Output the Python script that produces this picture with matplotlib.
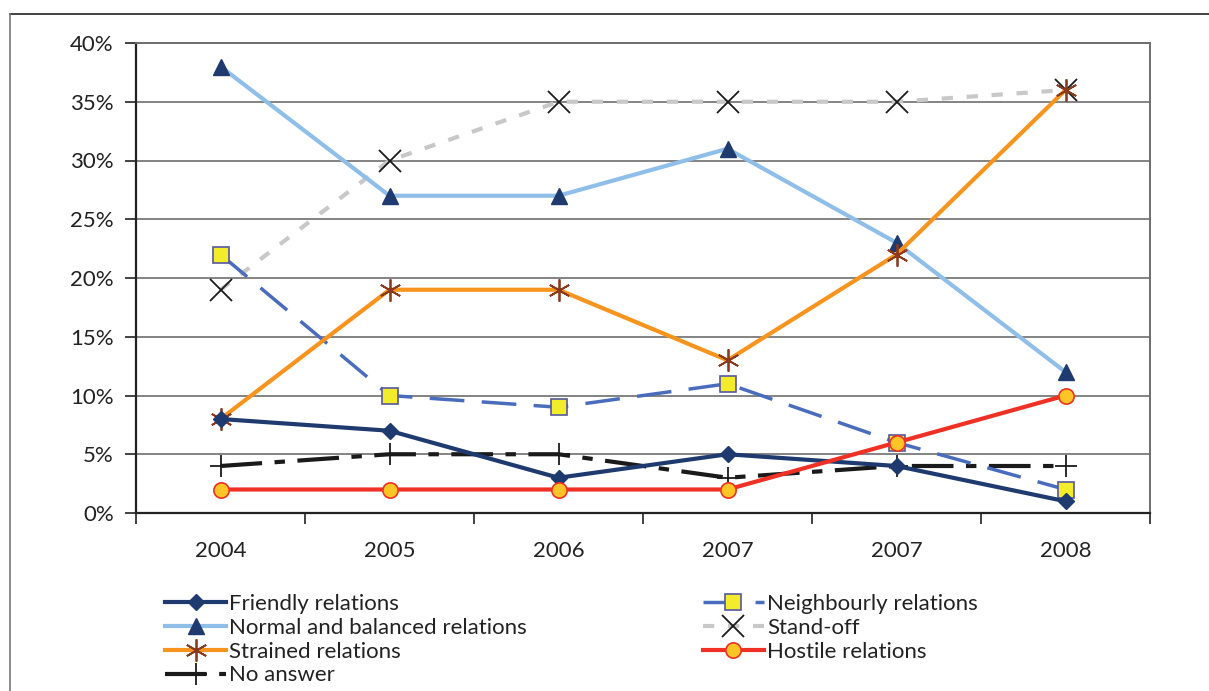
import matplotlib
matplotlib.use("Agg")
import matplotlib.pyplot as plt
from matplotlib.lines import Line2D
from matplotlib.ticker import FuncFormatter

plt.rcParams['font.family'] = ['Lato', 'DejaVu Sans']

years = ['2004', '2005', '2006', '2007', '2007', '2008']
friendly = [8, 7, 3, 5, 4, 1]
neighbourly = [22, 10, 9, 11, 6, 2]
normal = [38, 27, 27, 31, 23, 12]
standoff = [19, 30, 35, 35, 35, 36]
strained = [8, 19, 19, 13, 22, 36]
hostile = [2, 2, 2, 2, 6, 10]
no_answer = [4, 5, 5, 3, 4, 4]

fig = plt.figure(figsize=(12.09, 6.91), dpi=100)
ax = fig.add_axes([136 / 1209, 1 - 513 / 691, 1014 / 1209, 470 / 691])

x = list(range(len(years)))

h1, = ax.plot(x, friendly, color='#1F3A6E', lw=3, marker='D', ms=8,
              mfc='#1F3A6E', mec='#1F3A6E', label='Friendly relations', zorder=5)
h2, = ax.plot(x, neighbourly, color='#4A6CBD', lw=2.5, ls=(0, (10, 5)), marker='s', ms=11,
              mfc='#F2EC2A', mec='#5656A0', mew=1.2, label='Neighbourly relations', zorder=4)
h3, = ax.plot(x, normal, color='#8FBFE8', lw=3, marker='^', ms=11,
              mfc='#1F3A6E', mec='#1F3A6E', label='Normal and balanced relations', zorder=3)
h4, = ax.plot(x, standoff, color='#C8C8C8', lw=3, ls=(0, (2.7, 3.3)), marker='x', ms=16,
              mec='#1A1A1A', mew=1.3, label='Stand-off', zorder=2)
h5, = ax.plot(x, strained, color='#F7941D', lw=3, marker=(6, 2, 0), ms=16,
              mec='#8B3A1E', mew=1.3, label='Strained relations', zorder=4)
h6, = ax.plot(x, hostile, color='#EE3124', lw=3, marker='o', ms=11,
              mfc='#FFC425', mec='#EE3124', mew=1.2, label='Hostile relations', zorder=6)
h7, = ax.plot(x, no_answer, color='#1A1A1A', lw=3, ls=(0, (10, 3, 2.5, 3)), marker='+', ms=16,
              mec='#1A1A1A', mew=1.3, label='No answer', zorder=3)

ax.set_xlim(-0.5, len(years) - 0.5)
ax.set_ylim(0, 40)
ax.set_yticks(range(0, 41, 5))
ax.yaxis.set_major_formatter(FuncFormatter(lambda v, p: '%d%%' % v))
ax.set_xticks(x)
ax.set_xticklabels(years)
ax.set_xticks([i - 0.5 for i in range(len(years) + 1)], minor=True)
ax.tick_params(axis='x', which='major', length=0, pad=20, labelsize=16, colors='#222222')
ax.tick_params(axis='x', which='minor', length=8, width=1.2, color='#222222', direction='out')
ax.tick_params(axis='y', length=8, width=1.2, color='#222222', pad=8, labelsize=16,
               labelcolor='#222222')
ax.grid(axis='y', color='#6E6E6E', lw=1.2, zorder=0)
ax.set_axisbelow(True)
for s in ['top', 'right']:
    ax.spines[s].set_color('#6E6E6E')
    ax.spines[s].set_linewidth(1.4)
for s in ['left', 'bottom']:
    ax.spines[s].set_color('#222222')
    ax.spines[s].set_linewidth(1.6)

# legend: left column first, then right column
leg = fig.legend(handles=[h1, h3, h5, h7, h2, h4, h6], ncol=2, loc='upper left',
                 bbox_to_anchor=(165 / 1209, 1 - 594 / 691), frameon=False, fontsize=16,
                 handlelength=2.75, handletextpad=0.15, labelspacing=0.17, columnspacing=7.9,
                 borderpad=0, borderaxespad=0)
for t in leg.get_texts():
    t.set_color('#222222')

# outer frame
fig.add_artist(Line2D([10 / 1209, 1], [1 - 14 / 691] * 2, color='#222222', lw=1.2))
fig.add_artist(Line2D([10 / 1209] * 2, [0, 1 - 14 / 691], color='#777777', lw=1.2))

fig.savefig('out.png', dpi=100)
